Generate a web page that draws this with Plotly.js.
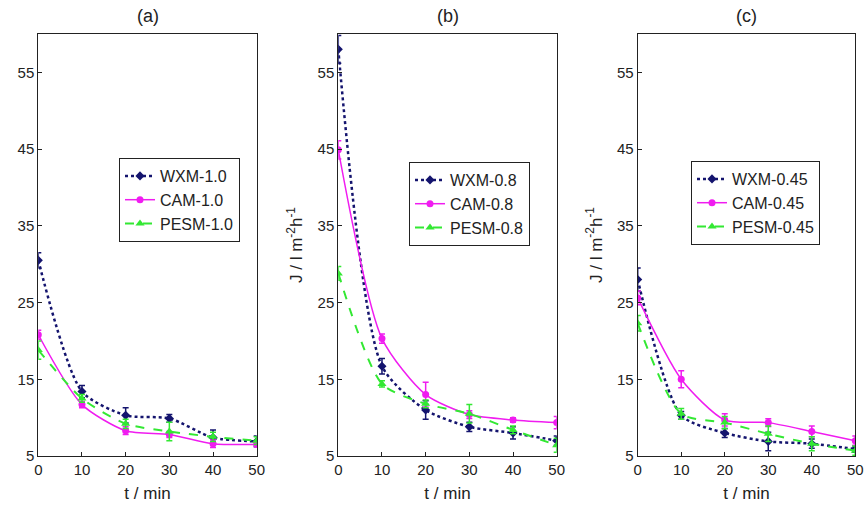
<!DOCTYPE html>
<html>
<head>
<meta charset="utf-8">
<script src="https://cdn.plot.ly/plotly-3.0.1.min.js"></script>
<style>html,body{margin:0;padding:0;background:#fff;}#chart{width:865px;height:506px;}</style>
</head>
<body>
<div id="chart"></div>
<script>
// Time axis (min)
const t = [0, 10, 20, 30, 40, 50];

// Panel (a): 1.0
const wxm10 = [30.5, 13.4, 10.3, 9.9, 7.4, 6.9];
const wxm10Err = [1.0, 0.8, 1.0, 0.5, 1.0, 0.7];
const cam10 = [20.8, 11.7, 8.3, 7.8, 6.6, 6.5];
const cam10Err = [0.6, 0.4, 0.5, 0.4, 0.5, 0.3];
const pesm10 = [18.8, 12.5, 9.2, 8.2, 7.5, 7.0];
const pesm10Err = [1.2, 0.5, 0.6, 1.2, 0.6, 0.5];

// Panel (b): 0.8
const wxm08 = [58.0, 16.7, 11.0, 8.8, 8.0, 7.0];
const wxm08Err = [1.8, 1.0, 1.2, 0.6, 0.8, 0.6];
const cam08 = [44.9, 20.3, 13.0, 10.4, 9.7, 9.35];
const cam08Err = [1.2, 0.6, 1.6, 0.5, 0.3, 0.8];
const pesm08 = [28.8, 14.4, 11.8, 10.5, 8.4, 6.4];
const pesm08Err = [0.9, 0.4, 0.5, 1.2, 0.5, 0.9];

// Panel (c): 0.45
const wxm045 = [28.0, 10.3, 8.0, 6.9, 6.6, 5.9];
const wxm045Err = [1.5, 0.5, 0.6, 1.2, 0.6, 0.4];
const cam045 = [25.6, 15.0, 9.7, 9.35, 8.2, 7.0];
const cam045Err = [0.9, 1.1, 0.8, 0.5, 0.7, 0.6];
const pesm045 = [22.3, 10.5, 9.35, 7.9, 6.6, 5.7];
const pesm045Err = [1.0, 0.7, 0.8, 1.0, 0.9, 0.6];

const names = [
  ['WXM-1.0', 'CAM-1.0', 'PESM-1.0'],
  ['WXM-0.8', 'CAM-0.8', 'PESM-0.8'],
  ['WXM-0.45', 'CAM-0.45', 'PESM-0.45']
];
const panelLabels = ['(a)', '(b)', '(c)'];

const NAVY = '#14146e', MAG = '#f01cf0', GRN = '#33e833';

const panels = [
  [[wxm10, wxm10Err], [cam10, cam10Err], [pesm10, pesm10Err]],
  [[wxm08, wxm08Err], [cam08, cam08Err], [pesm08, pesm08Err]],
  [[wxm045, wxm045Err], [cam045, cam045Err], [pesm045, pesm045Err]]
];
const styles = [
  {color: NAVY, dash: 'dot', width: 2.5, symbol: 'diamond', size: 7},
  {color: MAG, dash: 'solid', width: 1.5, symbol: 'circle', size: 7},
  {color: GRN, dash: 'dash', width: 2, symbol: 'triangle-up', size: 8}
];

const traces = [];
panels.forEach((series, p) => {
  const ax = p === 0 ? '' : String(p + 1);
  series.forEach((s, i) => {
    const st = styles[i];
    traces.push({
      x: t, y: s[0], name: names[p][i],
      type: 'scatter', mode: 'lines+markers',
      xaxis: 'x' + ax, yaxis: 'y' + ax,
      legend: p === 0 ? 'legend' : 'legend' + (p + 1),
      line: {color: st.color, dash: st.dash, width: st.width, shape: 'spline', smoothing: 0.7},
      marker: {color: st.color, symbol: st.symbol, size: st.size},
      error_y: {type: 'data', array: s[1], visible: true, color: st.color, thickness: 1.5, width: 3}
    });
  });
});

const W = 865, H = 506;
const xDomains = [[38.3 / W, 256.7 / W], [338.3 / W, 556.7 / W], [637.7 / W, 855.3 / W]];
const yDomain = [1 - 456 / H, 1 - 34 / H];
const TXT = '#222';
const font = {family: 'Liberation Sans, Arial, sans-serif', size: 15, color: TXT};

const layout = {
  width: W, height: H,
  margin: {l: 0, r: 0, t: 0, b: 0},
  paper_bgcolor: '#fff', plot_bgcolor: '#fff',
  font: font,
  showlegend: true,
  annotations: [],
};

const legendBoxes = [
  {x: 119, y: 158}, {x: 409, y: 162}, {x: 691, y: 161}
];

for (let p = 0; p < 3; p++) {
  const ax = p === 0 ? '' : String(p + 1);
  layout['xaxis' + ax] = {
    domain: xDomains[p], range: [0, 50], tickvals: [0, 10, 20, 30, 40, 50],
    ticks: 'inside', ticklen: 4, tickcolor: TXT,
    showline: true, mirror: true, linecolor: TXT, linewidth: 1,
    showgrid: false, zeroline: false, anchor: 'y' + ax,
    tickfont: {size: 15, color: TXT},
    title: {text: 't / min', font: {size: 17, color: TXT}, standoff: 10}
  };
  layout['yaxis' + ax] = {
    domain: yDomain, range: [5, 60], tickvals: [5, 15, 25, 35, 45, 55],
    ticks: 'inside', ticklen: 4, tickcolor: TXT,
    showline: true, mirror: true, linecolor: TXT, linewidth: 1,
    showgrid: false, zeroline: false, anchor: 'x' + ax,
    tickfont: {size: 15, color: TXT},
    title: p === 0 ? {text: ''} : {text: 'J / l m<sup>-2</sup>h<sup>-1</sup>', font: {size: 17, color: TXT}, standoff: 10}
  };
  const lg = 'legend' + (p === 0 ? '' : String(p + 1));
  layout[lg] = {
    x: legendBoxes[p].x / W, y: 1 - legendBoxes[p].y / H,
    xanchor: 'left', yanchor: 'top',
    bgcolor: '#fff', bordercolor: TXT, borderwidth: 1,
    font: {size: 16, color: TXT},
    tracegroupgap: 0, itemwidth: 30
  };
  layout.annotations.push({
    text: panelLabels[p], xref: 'paper', yref: 'paper',
    x: (xDomains[p][0] + xDomains[p][1]) / 2, y: 1 - 16 / H,
    xanchor: 'center', yanchor: 'middle', showarrow: false,
    font: {size: 18, color: TXT}
  });
}

Plotly.newPlot('chart', traces, layout, {displayModeBar: false, staticPlot: true});
</script>
</body>
</html>
